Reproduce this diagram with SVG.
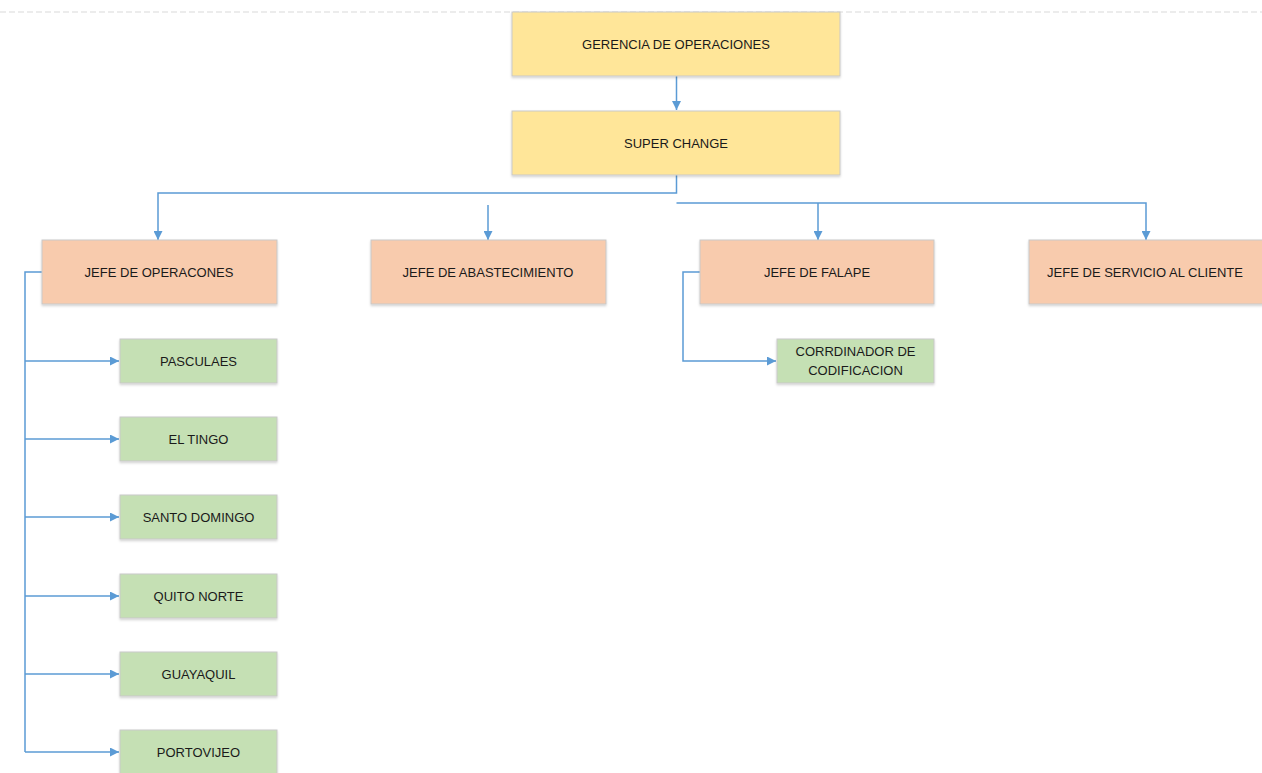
<svg xmlns="http://www.w3.org/2000/svg" width="1262" height="773" viewBox="0 0 1262 773">
<style>
.box{stroke:#c9c9c9;stroke-width:1;filter:url(#sh)}
.y{fill:#ffe699}
.o{fill:#f8cbad}
.g{fill:#c5e0b4}
.t{font-family:"Liberation Sans",Arial,sans-serif;font-size:13px;fill:#1a1a1a;text-anchor:middle;dominant-baseline:central}
.c{fill:none;stroke:#5b9bd5;stroke-width:1.5}
</style>
<defs>
<marker id="a" viewBox="0 0 10 10" refX="10" refY="5" markerWidth="9" markerHeight="9" markerUnits="userSpaceOnUse" orient="auto">
<path d="M0,0 L10,5 L0,10 Z" fill="#5b9bd5"/>
</marker>
<filter id="sh" x="-5%" y="-10%" width="110%" height="130%">
<feDropShadow dx="0" dy="1.5" stdDeviation="1.2" flood-color="#000" flood-opacity="0.18"/>
</filter>
</defs>
<rect width="1262" height="773" fill="#fff"/>
<line x1="0" y1="12" x2="1262" y2="12" stroke="#d9d9d9" stroke-width="1" stroke-dasharray="6,3"/>
<g id="connectors">
<path class="c" d="M676.5,76 V110" marker-end="url(#a)"/>
<path class="c" d="M676.5,175 V193 H158 V240" marker-end="url(#a)"/>
<path class="c" d="M488,205 V240" marker-end="url(#a)"/>
<path class="c" d="M676.5,203 H1146 V240" marker-end="url(#a)"/>
<path class="c" d="M818,203 V240" marker-end="url(#a)"/>
<path class="c" d="M42,272 H25 V752"/>
<path class="c" d="M25,361 H119" marker-end="url(#a)"/>
<path class="c" d="M25,439 H119" marker-end="url(#a)"/>
<path class="c" d="M25,517 H119" marker-end="url(#a)"/>
<path class="c" d="M25,596 H119" marker-end="url(#a)"/>
<path class="c" d="M25,674 H119" marker-end="url(#a)"/>
<path class="c" d="M25,752 H119" marker-end="url(#a)"/>
<path class="c" d="M700,272 H683 V361 H776" marker-end="url(#a)"/>
</g>
<g id="gerencia"><rect class="box y" x="512" y="12" width="328" height="64"/><text class="t" x="676" y="44">GERENCIA DE OPERACIONES</text></g>
<g id="super"><rect class="box y" x="512" y="111" width="328" height="64"/><text class="t" x="676" y="143">SUPER CHANGE</text></g>
<g id="jefe-op"><rect class="box o" x="42" y="240" width="235" height="64"/><text class="t" x="159" y="272">JEFE DE OPERACONES</text></g>
<g id="jefe-abas"><rect class="box o" x="371" y="240" width="235" height="64"/><text class="t" x="488" y="272">JEFE DE ABASTECIMIENTO</text></g>
<g id="jefe-falape"><rect class="box o" x="700" y="240" width="234" height="64"/><text class="t" x="817" y="272">JEFE DE FALAPE</text></g>
<g id="jefe-serv"><rect class="box o" x="1029" y="240" width="235" height="64"/><text class="t" x="1145" y="272">JEFE DE SERVICIO AL CLIENTE</text></g>
<g id="corrd"><rect class="box g" x="777" y="339" width="157" height="44"/><text class="t" x="855.5" y="351.5">CORRDINADOR DE</text><text class="t" x="855.5" y="370">CODIFICACION</text></g>
<g id="pasculaes"><rect class="box g" x="120" y="339" width="157" height="44"/><text class="t" x="198.5" y="361">PASCULAES</text></g>
<g id="eltingo"><rect class="box g" x="120" y="417" width="157" height="44"/><text class="t" x="198.5" y="439">EL TINGO</text></g>
<g id="santodomingo"><rect class="box g" x="120" y="495" width="157" height="44"/><text class="t" x="198.5" y="517">SANTO DOMINGO</text></g>
<g id="quitonorte"><rect class="box g" x="120" y="574" width="157" height="44"/><text class="t" x="198.5" y="596">QUITO NORTE</text></g>
<g id="guayaquil"><rect class="box g" x="120" y="652" width="157" height="44"/><text class="t" x="198.5" y="674">GUAYAQUIL</text></g>
<g id="portoviejo"><rect class="box g" x="120" y="730" width="157" height="44"/><text class="t" x="198.5" y="752">PORTOVIJEO</text></g>
</svg>
